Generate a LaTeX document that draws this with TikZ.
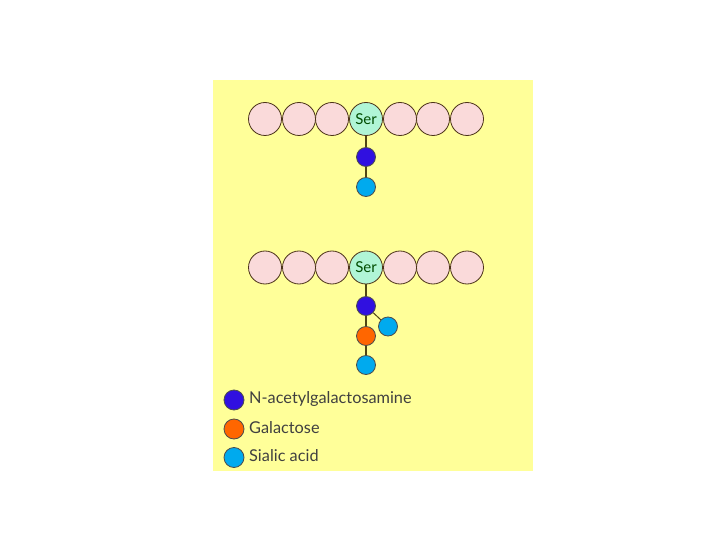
\documentclass[tikz,border=0pt]{standalone}
\usepackage{fontspec}
\setmainfont{Lato}
\begin{document}
\begin{tikzpicture}[x=1pt,y=-1pt,
  bead/.style={circle,draw=black!60!brown,line width=0.8pt,fill=beadpink,minimum size=33pt,inner sep=0pt},
  serbead/.style={bead,fill=sermint,font=\fontsize{15}{15}\selectfont,text=black!70!green},
  sugar/.style={circle,draw=black!70,line width=0.8pt,minimum size=19pt,inner sep=0pt},
  galnac/.style={sugar,fill=galnacblue},
  gal/.style={sugar,fill=galorange},
  sia/.style={sugar,fill=siacyan},
  link/.style={draw=linkbrown,line width=2pt},
  thinlink/.style={draw=linkbrown,line width=1pt},
  legtext/.style={anchor=west,font=\fontsize{16.3}{16}\selectfont,text=black!75,inner sep=0pt}]
\definecolor{bgyellow}{RGB}{255,255,153}
\definecolor{beadpink}{RGB}{250,218,218}
\definecolor{sermint}{RGB}{176,245,214}
\definecolor{galnacblue}{RGB}{48,16,224}
\definecolor{galorange}{RGB}{255,102,0}
\definecolor{siacyan}{RGB}{0,170,238}
\definecolor{linkbrown}{RGB}{80,70,20}
\useasboundingbox (0,0) rectangle (720,540);
\fill[bgyellow] (213,80) rectangle (533,471);
% top chain
\foreach \i/\x in {1/265,2/299,3/332,5/400,6/433,7/467}{\node[bead] (t\i) at (\x,119) {};}
\node[serbead] (tser) at (366,119) {Ser};
\node[galnac] (tg) at (366,157) {};
\node[sia] (ts) at (366,187) {};
\draw[link] (tser.south) -- (tg.north);
\draw[link] (tg.south) -- (ts.north);
% bottom chain
\foreach \i/\x in {1/265,2/299,3/332,5/400,6/433,7/467}{\node[bead] (b\i) at (\x,267.5) {};}
\node[serbead] (bser) at (366,267.5) {Ser};
\node[galnac] (bg) at (366,306) {};
\node[gal] (bo) at (366,336) {};
\node[sia] (bs) at (366,365) {};
\node[sia] (bside) at (388,326.5) {};
\draw[link] (bser.south) -- (bg.north);
\draw[link] (bg.south) -- (bo.north);
\draw[link] (bo.south) -- (bs.north);
\draw[thinlink] (bg) -- (bside);
% legend
\node[galnac,minimum size=20pt] (l1) at (234,400) {};
\node[gal,minimum size=20pt] (l2) at (234,429) {};
\node[sia,minimum size=20pt] (l3) at (234,457.5) {};
\node[legtext] (t1) at (249,398.5) {N-acetylgalactosamine};
\node[legtext] (t2) at (249,427.5) {Galactose};
\node[legtext] (t3) at (249,456) {Sialic acid};
\end{tikzpicture}
\end{document}
